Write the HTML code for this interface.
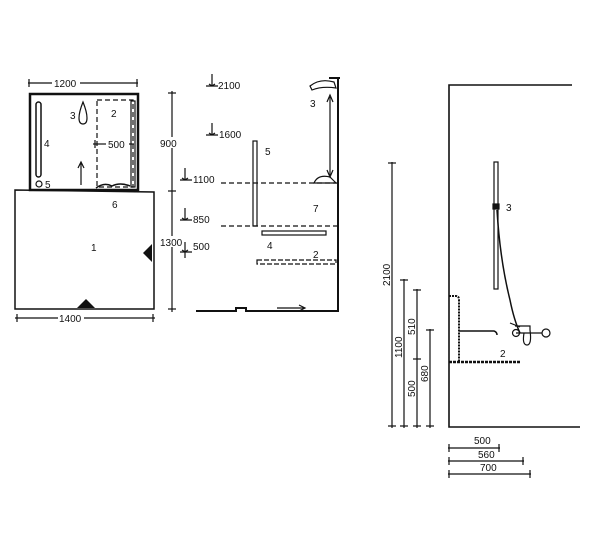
<!DOCTYPE html>
<html><head><meta charset="utf-8"><style>
html,body{margin:0;padding:0;background:#fff;}
svg{display:block}
text{font-family:"Liberation Sans",sans-serif;font-size:10px;fill:#111}
.s{stroke:#111;fill:none}
</style></head><body>
<svg width="602" height="547" viewBox="0 0 602 547" xmlns="http://www.w3.org/2000/svg">
<!-- LEFT PLAN -->
<g class="s" stroke-width="1.2">
<line x1="28" y1="83" x2="138" y2="83"/><line x1="29" y1="79" x2="29" y2="87"/><line x1="137" y1="79" x2="137" y2="87"/>
<rect x="30" y="94" width="108" height="96" stroke-width="2.5"/>
<rect x="36" y="102" width="5" height="75" rx="2.5" stroke-width="1.5"/>
<circle cx="39" cy="184" r="3"/>
<path d="M83 102 Q79 112 79 118 Q79 124 83 124 Q87 124 87 118 Q87 112 83 102Z"/>
<rect x="97" y="100" width="36" height="87" stroke-dasharray="5,3"/>
<rect x="131" y="101" width="4" height="86" stroke-width="1.2"/>
<line x1="93" y1="144" x2="106" y2="144"/><line x1="129" y1="144" x2="134" y2="144"/><line x1="95" y1="140" x2="95" y2="148"/>
<line x1="81" y1="185" x2="81" y2="163"/><path d="M78 168 L81 162 L84 168"/>
<path d="M96 188 Q104 182 112 186 Q120 182 130 186" stroke-width="1.5"/>
<path d="M15 190 L154 192 L154 309 L15 309 Z" stroke-width="1.5"/>
<line x1="15" y1="318" x2="155" y2="318"/><line x1="17" y1="314" x2="17" y2="322"/><line x1="153" y1="314" x2="153" y2="322"/>
<line x1="172" y1="91" x2="172" y2="312"/><line x1="168" y1="93" x2="176" y2="93"/><line x1="168" y1="191" x2="176" y2="191"/><line x1="168" y1="309" x2="176" y2="309"/>
</g>
<path d="M77 308 L86 299 L95 308Z" fill="#111"/>
<path d="M152 244 L143 253 L152 262Z" fill="#111"/>
<g fill="#fff"><rect x="52" y="78" width="28" height="10"/><rect x="58" y="313" width="26" height="10"/><rect x="106" y="139" width="22" height="10"/></g>
<text x="54" y="87">1200</text><text x="59" y="322">1400</text><text x="108" y="148">500</text>
<text x="70" y="119" font-size="12">3</text><text x="111" y="117" font-size="12">2</text>
<text x="44" y="147" font-size="12">4</text><text x="45" y="188" font-size="12">5</text>
<text x="112" y="208" font-size="12">6</text><text x="91" y="251" font-size="12">1</text>
<rect x="164" y="137" width="16" height="11" fill="#fff"/><text x="160" y="147">900</text>
<rect x="162" y="236" width="20" height="11" fill="#fff"/><text x="160" y="246">1300</text>
<!-- MIDDLE ELEVATION -->
<g class="s" stroke-width="1.2">
<path d="M212 74 V86 M206 86 H218 M209 84 L212 86 L215 84"/>
<path d="M212 123 V135 M206 135 H218 M209 133 L212 135 L215 133"/>
<path d="M185 168 V180 M180 180 H192 M182 178 L185 180 L188 178"/>
<path d="M185 208 V220 M180 220 H192 M182 218 L185 220 L188 218"/>
<path d="M185 242 V258 M180 252 H192 M182 250 L185 252 L188 250"/>
<path d="M338 78 V312 M329 78 H340" stroke-width="2"/>
<path d="M196 311 H236 V308 H246 V311 H338" stroke-width="2"/>
<line x1="221" y1="183" x2="338" y2="183" stroke-dasharray="5,3"/>
<line x1="221" y1="226" x2="338" y2="226" stroke-dasharray="5,3"/>
<rect x="253" y="141" width="4" height="85"/>
<rect x="262" y="231" width="64" height="4"/>
<rect x="257" y="260" width="79" height="4" stroke-dasharray="5,2"/>
<line x1="330" y1="97" x2="330" y2="175"/><path d="M327 102 L330 95 L333 102 M327 170 L330 177 L333 170"/>
<path d="M310 86 Q320 78 334 82 L336 88 Q322 86 312 90Z"/>
<path d="M314 183 Q318 174 330 177 L336 183Z"/>
<line x1="277" y1="308" x2="304" y2="308"/><path d="M299 305 L305 308 L299 311"/>
</g>
<text x="218" y="89">2100</text><text x="219" y="138">1600</text><text x="193" y="183">1100</text>
<text x="193" y="223">850</text><text x="193" y="250">500</text>
<text x="310" y="107" font-size="12">3</text><text x="265" y="155" font-size="12">5</text>
<text x="313" y="212" font-size="12">7</text><text x="267" y="249" font-size="12">4</text><text x="313" y="258" font-size="12">2</text>
<!-- RIGHT SECTION -->
<g class="s" stroke-width="1.2">
<path d="M572 85 H449 V427 H580" stroke-width="1.6"/>
<line x1="392" y1="162" x2="392" y2="428"/><line x1="388" y1="163" x2="396" y2="163"/><line x1="388" y1="426" x2="396" y2="426"/>
<line x1="404" y1="279" x2="404" y2="428"/><line x1="400" y1="280" x2="408" y2="280"/><line x1="400" y1="426" x2="408" y2="426"/>
<line x1="417" y1="289" x2="417" y2="428"/><line x1="413" y1="290" x2="421" y2="290"/><line x1="413" y1="359" x2="421" y2="359"/><line x1="413" y1="426" x2="421" y2="426"/>
<line x1="430" y1="329" x2="430" y2="428"/><line x1="426" y1="330" x2="434" y2="330"/><line x1="426" y1="426" x2="434" y2="426"/>
<line x1="448" y1="448" x2="500" y2="448"/><line x1="449" y1="444" x2="449" y2="452"/><line x1="499" y1="444" x2="499" y2="452"/>
<line x1="448" y1="461" x2="524" y2="461"/><line x1="449" y1="457" x2="449" y2="465"/><line x1="523" y1="457" x2="523" y2="465"/>
<line x1="448" y1="474" x2="531" y2="474"/><line x1="449" y1="470" x2="449" y2="478"/><line x1="530" y1="470" x2="530" y2="478"/>
<rect x="494" y="162" width="4" height="127"/>
<rect x="493" y="204" width="6" height="5" fill="#111"/>
<path d="M497 210 Q500 260 510 300 Q514 320 520 333" stroke-width="1.5"/>
<path d="M449 296 H456 Q459 296 459 300 V362" stroke-width="2" stroke-dasharray="2,1"/>
<path d="M459 331 H494 Q497 332 497 335" stroke-width="1.5"/>
<path d="M449 362 H521" stroke-width="2.5" stroke-dasharray="3,1"/>
<circle cx="516" cy="333" r="3.5"/><circle cx="546" cy="333" r="4"/>
<path d="M516 333 H542 M524 333 Q522 345 527 345 Q532 345 530 330 V326 H515 M510 323 L520 327"/>
</g>
<text x="506" y="211" font-size="12">3</text><text x="500" y="357" font-size="12">2</text>
<text x="474" y="444">500</text><text x="478" y="458">560</text><text x="480" y="471">700</text>
<text transform="translate(390,286) rotate(-90)">2100</text>
<text transform="translate(402,358) rotate(-90)">1100</text>
<text transform="translate(415,335) rotate(-90)">510</text>
<text transform="translate(415,397) rotate(-90)">500</text>
<text transform="translate(428,382) rotate(-90)">680</text>
</svg>
</body></html>
